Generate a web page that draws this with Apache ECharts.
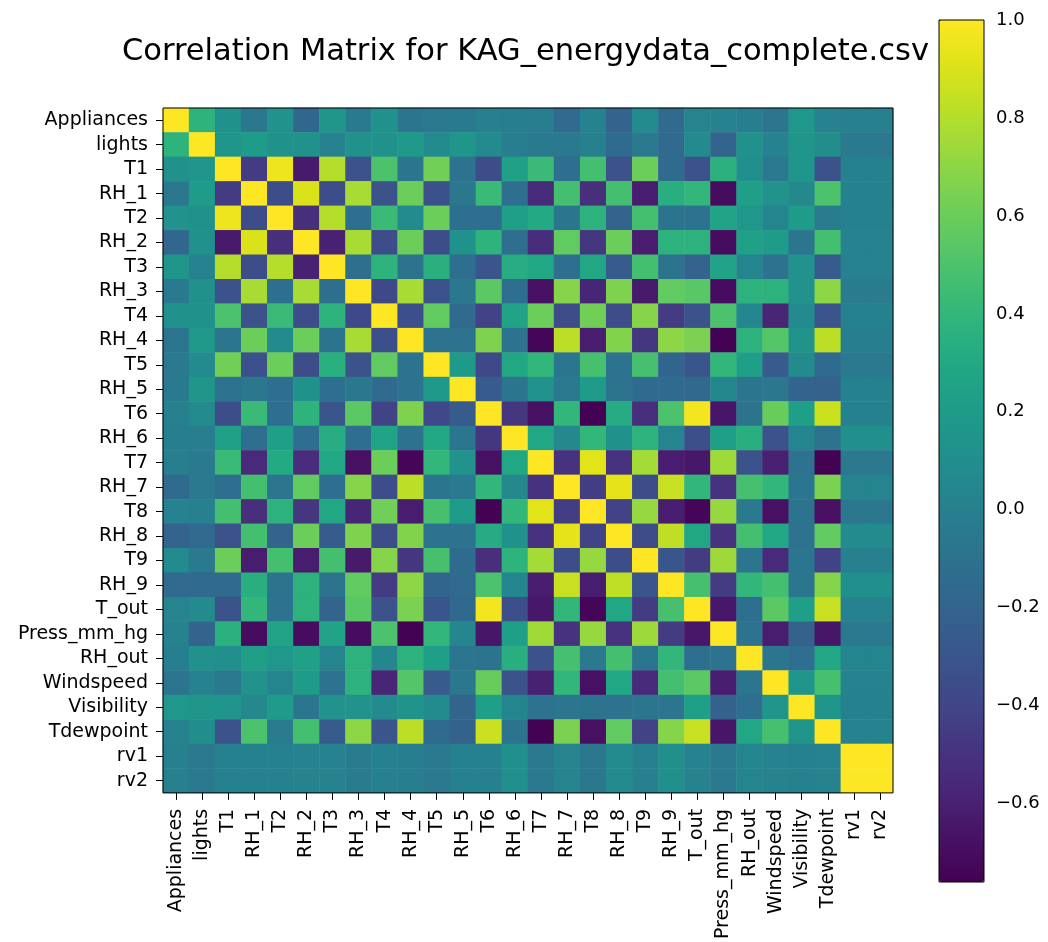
<!DOCTYPE html>
<html>
<head>
<meta charset="utf-8">
<script src="https://cdn.jsdelivr.net/npm/echarts@6/dist/echarts.min.js"></script>
<style>
  html, body { margin: 0; padding: 0; background: #fff; }
  #chart { width: 1048px; height: 942px; }
</style>
</head>
<body>
<div id="chart"></div>
<script>
const titleText = 'Correlation Matrix for KAG_energydata_complete.csv';

const variables = ['Appliances', 'lights', 'T1', 'RH_1', 'T2', 'RH_2', 'T3', 'RH_3', 'T4', 'RH_4',
  'T5', 'RH_5', 'T6', 'RH_6', 'T7', 'RH_7', 'T8', 'RH_8', 'T9', 'RH_9', 'T_out', 'Press_mm_hg',
  'RH_out', 'Windspeed', 'Visibility', 'Tdewpoint', 'rv1', 'rv2'];

// Lower triangle of the correlation matrix (row i holds columns 0..i)
const corrLower = [
  [1],
  [0.38, 1],
  [0.12, 0.15, 1],
  [-0.06, 0.20, -0.45, 1],
  [0.13, 0.12, 0.96, -0.35, 1],
  [-0.18, 0.12, -0.63, 0.90, -0.52, 1],
  [0.16, 0.02, 0.80, -0.35, 0.80, -0.60, 1],
  [-0.04, 0.12, -0.32, 0.77, -0.13, 0.77, -0.12, 1],
  [0.12, 0.12, 0.50, -0.32, 0.43, -0.35, 0.38, -0.38, 1],
  [-0.07, 0.18, -0.07, 0.60, 0.07, 0.60, -0.09, 0.77, -0.34, 1],
  [-0.05, 0.07, 0.62, -0.33, 0.60, -0.35, 0.35, -0.32, 0.57, -0.10, 1],
  [-0.04, 0.16, -0.10, -0.06, -0.13, 0.12, -0.13, -0.06, -0.16, -0.10, 0.18, 1],
  [0.00, 0.07, -0.35, 0.43, -0.13, 0.38, -0.30, 0.55, -0.42, 0.66, -0.38, -0.26, 1],
  [-0.01, -0.02, 0.24, -0.13, 0.23, -0.13, 0.33, -0.13, 0.27, -0.10, 0.29, -0.08, -0.48, 1],
  [-0.02, -0.04, 0.43, -0.55, 0.31, -0.53, 0.29, -0.68, 0.60, -0.73, 0.40, 0.13, -0.68, 0.29, 1],
  [-0.16, -0.05, -0.13, 0.47, -0.07, 0.57, -0.13, 0.68, -0.35, 0.82, -0.07, -0.05, 0.40, 0.06, -0.50, 1],
  [0.02, 0.00, 0.47, -0.52, 0.37, -0.48, 0.29, -0.57, 0.62, -0.62, 0.48, 0.20, -0.755, 0.40, 0.92, -0.44, 1],
  [-0.20, -0.15, -0.32, 0.47, -0.20, 0.60, -0.25, 0.66, -0.35, 0.67, -0.10, -0.10, 0.32, 0.12, -0.50, 0.93, -0.42, 1],
  [0.07, -0.05, 0.60, -0.62, 0.47, -0.62, 0.47, -0.63, 0.68, -0.48, 0.48, -0.15, -0.52, 0.38, 0.76, -0.35, 0.72, -0.35, 1],
  [-0.16, -0.16, -0.16, 0.34, -0.09, 0.37, -0.09, 0.57, -0.45, 0.70, -0.19, -0.16, 0.50, 0.04, -0.62, 0.85, -0.62, 0.83, -0.30, 1],
  [0.03, 0.07, -0.32, 0.40, -0.10, 0.37, -0.20, 0.54, -0.32, 0.65, -0.30, -0.17, 0.97, -0.34, -0.64, 0.40, -0.73, 0.29, -0.45, 0.48, 1],
  [0.02, -0.20, 0.36, -0.70, 0.27, -0.70, 0.27, -0.70, 0.50, -0.755, 0.40, 0.05, -0.65, 0.22, 0.75, -0.50, 0.72, -0.50, 0.74, -0.45, -0.64, 1],
  [-0.01, 0.12, 0.11, 0.22, 0.17, 0.24, 0.04, 0.37, 0.05, 0.37, 0.22, -0.07, -0.09, 0.34, -0.32, 0.48, -0.05, 0.47, -0.07, 0.40, -0.13, -0.10, 1],
  [-0.07, 0.02, -0.05, 0.13, 0.04, 0.20, -0.10, 0.37, -0.58, 0.53, -0.26, -0.06, 0.59, -0.32, -0.60, 0.40, -0.68, 0.29, -0.55, 0.47, 0.55, -0.62, -0.07, 1],
  [0.17, 0.16, 0.15, 0.06, 0.20, -0.08, 0.13, 0.13, 0.08, 0.14, 0.08, -0.20, 0.23, 0.04, -0.10, -0.08, -0.09, -0.10, -0.07, -0.07, 0.22, -0.21, -0.13, 0.15, 1],
  [0.02, 0.10, -0.32, 0.50, -0.03, 0.47, -0.25, 0.70, -0.30, 0.82, -0.15, -0.21, 0.86, -0.09, -0.755, 0.65, -0.68, 0.57, -0.42, 0.68, 0.85, -0.65, 0.29, 0.48, 0.16, 1],
  [0.00, -0.05, 0.01, 0.01, 0.01, 0.02, 0.02, -0.03, 0.01, -0.01, -0.05, 0.01, 0.01, 0.11, -0.05, 0.03, -0.06, 0.08, 0.00, 0.11, 0.02, -0.05, 0.04, 0.02, 0.01, 0.02, 1],
  [0.00, -0.05, 0.01, 0.01, 0.01, 0.02, 0.02, -0.03, 0.01, -0.01, -0.05, 0.01, 0.01, 0.11, -0.05, 0.03, -0.06, 0.08, 0.00, 0.11, 0.02, -0.05, 0.04, 0.02, 0.01, 0.02, 1, 1]
];

const colorbarTicks = [-0.6, -0.4, -0.2, 0.0, 0.2, 0.4, 0.6, 0.8, 1.0];
const colorMin = -0.76;
const colorMax = 1.0;

const viridis = ['#440154', '#471164', '#482475', '#46337f', '#414487', '#3b528b', '#355f8d',
  '#2f6c8e', '#2a788e', '#25848e', '#21918c', '#1e9c89', '#22a884', '#2fb47c', '#44bf70',
  '#5ec962', '#7ad151', '#9bd93c', '#bddf26', '#dfe318', '#fde725'];

// Build heatmap cells from the symmetric matrix
const n = variables.length;
const cells = [];
for (let i = 0; i < n; i++) {
  for (let j = 0; j < n; j++) {
    const v = i >= j ? corrLower[i][j] : corrLower[j][i];
    cells.push([j, i, v]);
  }
}

const FONT = 'DejaVu Sans';
const chart = echarts.init(document.getElementById('chart'), null, { renderer: 'canvas' });

chart.setOption({
  animation: false,
  backgroundColor: '#ffffff',
  title: {
    text: titleText,
    left: 122,
    top: 37,
    padding: 0,
    textStyle: { fontFamily: FONT, fontSize: 30.5, fontWeight: 'normal', color: '#000' }
  },
  grid: [
    { left: 163, top: 108, width: 730, height: 687, show: true, z: 10,
      backgroundColor: 'transparent', borderColor: '#000', borderWidth: 1 },
    { left: 939, top: 20, width: 45, height: 862, show: true, z: 10,
      backgroundColor: 'transparent', borderColor: '#000', borderWidth: 1 }
  ],
  xAxis: [
    {
      type: 'category', gridIndex: 0, data: variables, position: 'bottom',
      axisLine: { show: false },
      axisTick: { show: true, alignWithLabel: true, interval: 0, length: 7, lineStyle: { color: '#000' } },
      axisLabel: { interval: 0, rotate: 90, margin: 16, fontFamily: FONT, fontSize: 19, color: '#000' },
      splitLine: { show: false }, splitArea: { show: false }
    },
    { type: 'value', gridIndex: 1, show: false, min: 0, max: 1 }
  ],
  yAxis: [
    {
      type: 'category', gridIndex: 0, data: variables, inverse: true,
      axisLine: { show: false },
      axisTick: { show: true, alignWithLabel: true, interval: 0, length: 7, lineStyle: { color: '#000' } },
      axisLabel: { interval: 0, margin: 15, fontFamily: FONT, fontSize: 19, color: '#000' },
      splitLine: { show: false }, splitArea: { show: false }
    },
    {
      type: 'value', gridIndex: 1, position: 'right', min: colorMin, max: colorMax,
      axisLine: { show: false },
      axisTick: { show: true, customValues: colorbarTicks, length: 7, lineStyle: { color: '#000' } },
      axisLabel: {
        customValues: colorbarTicks, margin: 12, fontFamily: FONT, fontSize: 18, color: '#000',
        formatter: v => (v < 0 ? '\u2212' : '') + Math.abs(v).toFixed(1)
      },
      splitLine: { show: false }
    }
  ],
  visualMap: {
    type: 'continuous',
    min: colorMin, max: colorMax,
    seriesIndex: 0,
    calculable: false,
    hoverLink: false,
    orient: 'vertical',
    left: 939, top: 20,
    itemWidth: 45, itemHeight: 862,
    padding: 0,
    inRange: { color: viridis },
    textStyle: { color: 'transparent' }
  },
  series: [{
    type: 'heatmap',
    xAxisIndex: 0, yAxisIndex: 0,
    data: cells,
    itemStyle: { borderWidth: 0 },
    emphasis: { disabled: true },
    progressive: 0
  }]
});
</script>
</body>
</html>
